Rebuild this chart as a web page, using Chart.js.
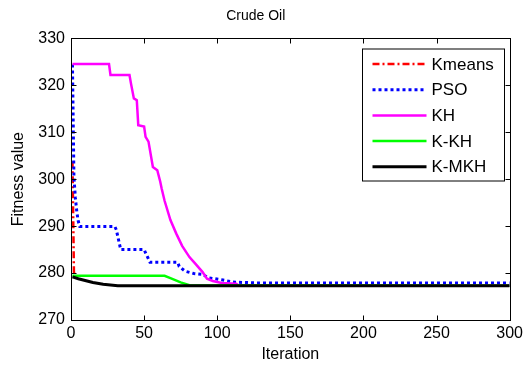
<!DOCTYPE html>
<html>
<head>
<meta charset="utf-8">
<title>Crude Oil</title>
<script src="https://cdn.jsdelivr.net/npm/chart.js@4.4.1/dist/chart.umd.min.js"></script>
<style>
    html, body { margin: 0; padding: 0; background: #fff; }
    #wrap { position: relative; width: 527px; height: 370px; }
</style>
</head>
<body>
<div id="wrap"><canvas id="fitnessChart"></canvas></div>
<script>
const xTicks = [0, 50, 100, 150, 200, 250, 300];
const yTicks = [270, 280, 290, 300, 310, 320, 330];

// iteration / fitness pairs per algorithm
const kmeansIter = [1, 2, 3];
const kmeansFit = [303.8, 280.2, 279.4];

const psoIter = [1, 2, 3, 4, 5, 6, 30, 31, 34, 50, 51, 54, 73, 74, 78, 84, 90, 94, 98, 104, 110, 126, 300];
const psoFit = [324.4, 300.5, 296.0, 293.0, 291.0, 289.9, 289.9, 289.2, 285.0, 285.0, 284.3, 282.3, 282.3, 281.4, 280.4, 279.9, 279.7, 279.0, 278.8, 278.5, 278.1, 277.9, 277.9];

const khIter = [1, 26, 27, 40, 41, 43, 45, 46, 50, 51, 53, 56, 59, 61, 62, 64, 68, 72, 76, 81, 85, 90, 93, 97, 103, 113, 115, 300];
const khFit = [324.5, 324.5, 322.2, 322.2, 320.4, 317.2, 316.8, 311.5, 311.2, 309.0, 308.0, 302.6, 301.9, 299.5, 298.0, 295.4, 291.3, 288.4, 285.8, 283.4, 282.0, 280.2, 278.8, 278.3, 277.9, 277.7, 277.3, 277.3];

const kkhIter = [1, 64, 68, 75, 81, 300];
const kkhFit = [279.4, 279.4, 278.9, 278.0, 277.4, 277.3];

const kmkhIter = [1, 5, 15, 22, 32, 300];
const kmkhFit = [279.2, 278.8, 278.0, 277.6, 277.3, 277.3];

const FONT = "'Liberation Sans', Arial, Helvetica, sans-serif";

function toPoints(xs, ys) {
    return xs.map((x, i) => ({ x: x, y: ys[i] }));
}

function series(label, xs, ys, color, dash, width, order) {
    return {
        label: label,
        data: toPoints(xs, ys),
        borderColor: color,
        borderDash: dash,
        borderWidth: width,
        borderCapStyle: 'butt',
        pointRadius: 0,
        tension: 0,
        fill: false,
        order: order
    };
}

// box around the axes, inward ticks and the boxed legend
const frameAndLegend = {
    id: 'frameAndLegend',
    afterDatasetsDraw(chart) {
        const { ctx, chartArea: a, scales: { x, y } } = chart;
        const L = Math.round(a.left) + 0.5, R = Math.round(a.right) + 0.5;
        const T = Math.round(a.top) + 0.5, B = Math.round(a.bottom) + 0.5;
        ctx.save();
        ctx.strokeStyle = '#000';
        ctx.lineWidth = 1;
        ctx.setLineDash([]);
        ctx.strokeRect(L, T, R - L, B - T);
        ctx.beginPath();
        x.ticks.forEach(t => {
            const px = Math.round(x.getPixelForValue(t.value)) + 0.5;
            ctx.moveTo(px, B); ctx.lineTo(px, B - 5);
            ctx.moveTo(px, T); ctx.lineTo(px, T + 5);
        });
        y.ticks.forEach(t => {
            const py = Math.round(y.getPixelForValue(t.value)) + 0.5;
            ctx.moveTo(L, py); ctx.lineTo(L + 5, py);
            ctx.moveTo(R, py); ctx.lineTo(R - 5, py);
        });
        ctx.stroke();

        // legend
        const boxW = 142, boxH = 132;
        const bx = Math.round(R - 7 - boxW) + 0.5, by = Math.round(T + 10);
        ctx.fillStyle = '#fff';
        ctx.fillRect(bx, by, boxW, boxH);
        ctx.strokeRect(bx, by, boxW, boxH);
        ctx.font = '17px ' + FONT;
        ctx.textBaseline = 'middle';
        ctx.textAlign = 'left';
        chart.data.datasets.forEach((ds, i) => {
            const ry = by + 15 + i * 25.7;
            ctx.beginPath();
            ctx.strokeStyle = ds.borderColor;
            ctx.lineWidth = ds.borderWidth;
            ctx.lineCap = 'butt';
            ctx.setLineDash(ds.borderDash);
            ctx.moveTo(bx + 10, ry);
            ctx.lineTo(bx + 64, ry);
            ctx.stroke();
            ctx.setLineDash([]);
            ctx.fillStyle = '#000';
            ctx.fillText(ds.label, bx + 69, ry + 1);
        });
        ctx.restore();
    }
};

const ctx = document.getElementById('fitnessChart').getContext('2d');
new Chart(ctx, {
    type: 'line',
    data: {
        datasets: [
            series('Kmeans', kmeansIter, kmeansFit, '#ff0000', [7, 3, 2, 3], 2.5, 4),
            series('PSO', psoIter, psoFit, '#0000ff', [3, 3], 3, 3),
            series('KH', khIter, khFit, '#ff00ff', [], 2.5, 2),
            series('K-KH', kkhIter, kkhFit, '#00ff00', [], 2.5, 1),
            series('K-MKH', kmkhIter, kmkhFit, '#000000', [], 3, 0)
        ]
    },
    options: {
        responsive: true,
        maintainAspectRatio: false,
        animation: false,
        layout: { padding: { left: 0, right: 15.5, top: 0, bottom: 0 } },
        plugins: {
            legend: { display: false },
            tooltip: { enabled: false },
            title: {
                display: true,
                text: 'Crude Oil',
                color: '#000',
                font: { family: FONT, size: 14, weight: 'normal' },
                padding: { top: 8, bottom: 13.5 }
            }
        },
        scales: {
            x: {
                type: 'linear',
                min: xTicks[0],
                max: xTicks[xTicks.length - 1],
                afterBuildTicks: scale => { scale.ticks = xTicks.map(v => ({ value: v })); },
                afterFit: scale => { scale.height = 50; },
                grid: { display: false, drawTicks: false },
                border: { display: false },
                ticks: { color: '#000', padding: 4, maxRotation: 0, font: { family: FONT, size: 16 } },
                title: {
                    display: true,
                    text: 'Iteration',
                    color: '#000',
                    font: { family: FONT, size: 16 },
                    padding: { top: 0, bottom: 6 }
                }
            },
            y: {
                type: 'linear',
                min: yTicks[0],
                max: yTicks[yTicks.length - 1],
                afterBuildTicks: scale => { scale.ticks = yTicks.map(v => ({ value: v })); },
                afterFit: scale => { scale.width = 71; },
                grid: { display: false, drawTicks: false },
                border: { display: false },
                ticks: { color: '#000', padding: 6, font: { family: FONT, size: 16 } },
                title: {
                    display: true,
                    text: 'Fitness value',
                    color: '#000',
                    font: { family: FONT, size: 16 },
                    padding: { top: 9, bottom: 0 }
                }
            }
        }
    },
    plugins: [frameAndLegend]
});
</script>
</body>
</html>
